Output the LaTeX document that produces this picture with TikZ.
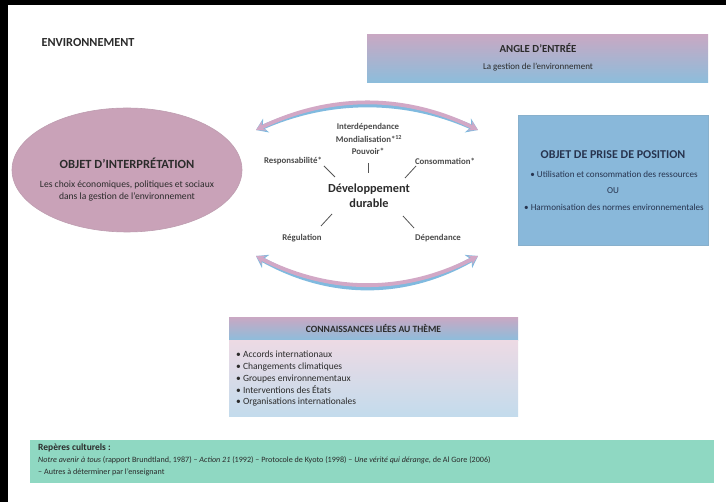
\documentclass[tikz,border=0pt]{standalone}
\usepackage{fontspec}
\setmainfont{Carlito}
\usetikzlibrary{arrows.meta,shapes.geometric}
\definecolor{mauve}{HTML}{C9A2B8}
\definecolor{pinkg}{HTML}{C9A8C3}
\definecolor{blueg}{HTML}{8DBDDB}
\definecolor{boxblue}{HTML}{89B8DA}
\definecolor{mint}{HTML}{8FD8C2}
\definecolor{txt}{HTML}{2B2B2B}
\definecolor{navy}{HTML}{27344F}
\definecolor{lpink}{HTML}{EDDAE4}
\definecolor{lblue}{HTML}{C3DBEC}
\definecolor{arcpink}{HTML}{D2A8C6}
\definecolor{arcblue}{HTML}{80BADF}
\tikzset{
  ttl/.style={font=\bfseries\fontsize{11.5}{13}\selectfont},
  body/.style={font=\fontsize{8}{10}\selectfont},
  posbody/.style={text=navy, font=\fontsize{9.1}{11}\selectfont},
  kw/.style={font=\bfseries\fontsize{8.8}{10}\selectfont, text=txt!85!white},
  tickln/.style={line width=0.8pt, draw=txt!80!white},
  arcb/.style={line width=4.8pt, draw=arcblue, {Stealth[length=11pt,width=15pt]}-{Stealth[length=11pt,width=15pt]}},
  arcp/.style={line width=3.8pt, draw=arcpink, {Stealth[length=9pt,width=10pt]}-{Stealth[length=9pt,width=10pt]}},
}
\begin{document}
\begin{tikzpicture}[x=1pt,y=-1pt, text=txt]
\useasboundingbox (0,0) rectangle (726,502);
\fill[white] (0,0) rectangle (726,502);
\fill[black] (0,0) rectangle (726,5);
\fill[black] (0,0) rectangle (8,502);

% title
\node[ttl, anchor=west, font=\bfseries\fontsize{12.3}{13}\selectfont] (env) at (38,43) {ENVIRONNEMENT};

% angle d'entree
\node[anchor=north west, minimum width=341pt, minimum height=48pt, top color=pinkg, bottom color=blueg, inner sep=0pt] (angle) at (367,34) {};
\node[ttl, font=\bfseries\fontsize{10.8}{12}\selectfont] (angt) at (538,48) {ANGLE D’ENTRÉE};
\node[body, font=\fontsize{9}{10}\selectfont] (angs) at (538,67) {La gestion de l’environnement};

% ellipse
\node[ellipse, fill=mauve, draw=mauve!85!gray, line width=0.6pt, minimum width=230pt, minimum height=124pt] (interp) at (127,170) {};
\node[ttl, font=\bfseries\fontsize{12.5}{14}\selectfont] (intt) at (127,163) {OBJET D’INTERPRÉTATION};
\node[align=center, font=\fontsize{9.6}{12}\selectfont] (ints) at (127,191) {Les choix économiques, politiques et sociaux\\dans la gestion de l’environnement};

% position box
\node[anchor=north west, fill=boxblue, draw=boxblue!85!gray, line width=0.6pt, minimum width=190pt, minimum height=130pt] (pos) at (518,115) {};
\node[ttl, text=navy, font=\bfseries\fontsize{12}{13}\selectfont] (post) at (613,155) {OBJET DE PRISE DE POSITION};
\node[posbody] (pos1) at (614,174) {• Utilisation et consommation des ressources};
\node[posbody] (pos2) at (613,191) {OU};
\node[posbody] (pos3) at (614,207) {• Harmonisation des normes environnementales};

% arcs
\coordinate (ua) at (256,130);
\coordinate (ub) at (478,130);
\coordinate (la) at (256,256);
\coordinate (lb) at (478,256);
\draw[arcb, yshift=-1.5pt] (ua) .. controls (330,96) and (405,96) .. (ub);
\draw[arcp, yshift=2pt] (ua) .. controls (330,96) and (405,96) .. (ub);
\draw[arcb, yshift=-1.5pt] (la) .. controls (330,296) and (405,296) .. (lb);
\draw[arcp, yshift=2pt] (la) .. controls (330,296) and (405,296) .. (lb);

% central keywords
\node[kw] (inter) at (368,127) {Interdépendance};
\node[kw] (mond) at (369,139) {Mondialisation*\textsuperscript{12}};
\node[kw] (pouv) at (368,151) {Pouvoir*};
\node[kw] (resp) at (293,161) {Responsabilité*};
\node[kw] (cons) at (445,161) {Consommation*};
\node[kw] (regu) at (302,238) {Régulation};
\node[kw] (depe) at (438,238) {Dépendance};
\node[font=\bfseries\fontsize{12.3}{15}\selectfont, align=center, text=txt] (dev) at (369,196) {Développement\\durable};

\coordinate (t0a) at (368,163); \coordinate (t0b) at (368,173);
\coordinate (t1a) at (324,166); \coordinate (t1b) at (335,177);
\coordinate (t2a) at (416,166); \coordinate (t2b) at (405,178);
\coordinate (t3a) at (332,214); \coordinate (t3b) at (321,226);
\coordinate (t4a) at (403,216); \coordinate (t4b) at (414,228);
\draw[tickln] (t0a) -- (t0b);
\draw[tickln] (t1a) -- (t1b);
\draw[tickln] (t2a) -- (t2b);
\draw[tickln] (t3a) -- (t3b);
\draw[tickln] (t4a) -- (t4b);

% connaissances
\node[anchor=north west, minimum width=289pt, minimum height=23pt, top color=pinkg, bottom color=blueg, inner sep=0pt] (conh) at (229,317) {};
\node[anchor=north west, minimum width=289pt, minimum height=76pt, top color=lpink, bottom color=lblue, inner sep=0pt] (conb) at (229,340) {};
\node[font=\bfseries\fontsize{9.6}{11}\selectfont] (cont) at (373.5,329) {CONNAISSANCES LIÉES AU THÈME};
\node[anchor=north west, align=left, inner sep=0pt, font=\fontsize{9.5}{11.8}\selectfont] (conl) at (236,351) {• Accords internationaux\\• Changements climatiques\\• Groupes environnementaux\\• Interventions des États\\• Organisations internationales};

% reperes
\node[anchor=north west, minimum width=684pt, minimum height=43pt, fill=mint, inner sep=0pt] (rep) at (30,440) {};
\node[anchor=north west, align=left, inner sep=0pt, font=\fontsize{8.1}{12}\selectfont] (rept) at (38,444) {{\bfseries\fontsize{9.5}{10}\selectfont Repères culturels :}\\{\itshape Notre avenir à tous} (rapport Brundtland, 1987) – {\itshape Action 21} (1992) – Protocole de Kyoto (1998) – {\itshape Une vérité qui dérange}, de Al Gore (2006)\\– Autres à déterminer par l’enseignant};
\end{tikzpicture}
\end{document}
